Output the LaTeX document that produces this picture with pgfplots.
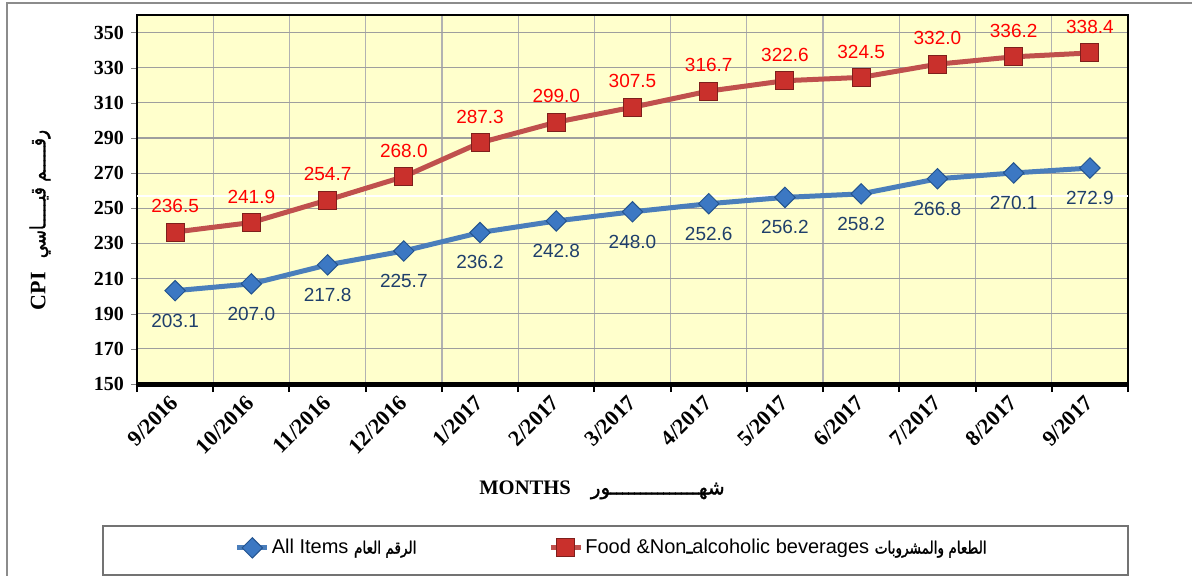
\documentclass[border=0pt]{standalone}
\usepackage{fontspec}
\setmainfont{Liberation Serif}
\newfontfamily\arial{Liberation Sans}
\newfontfamily\arabicfont[Script=Arabic,FakeBold=1.5]{DejaVu Sans}
\newfontfamily\arabiccond[Script=Arabic,FakeBold=1.5,FakeStretch=0.8]{DejaVu Sans}
\usepackage{pgfplots}
\pgfplotsset{compat=1.18}
\TeXXeTstate=1
\definecolor{redline}{HTML}{C0504D}
\definecolor{redfill}{HTML}{C9302C}
\definecolor{reddraw}{HTML}{7F1F1C}
\definecolor{blueline}{HTML}{4A7EBB}
\definecolor{bluefill}{HTML}{3C78C3}
\definecolor{bluedraw}{HTML}{24548F}
\definecolor{bluelab}{HTML}{1F3F6B}
\definecolor{bg}{HTML}{FFFFCC}
\pgfplotstableread{
x y
0 203.1
1 207.0
2 217.8
3 225.7
4 236.2
5 242.8
6 248.0
7 252.6
8 256.2
9 258.2
10 266.8
11 270.1
12 272.9
}\allitems
\pgfplotstableread{
x y
0 236.5
1 241.9
2 254.7
3 268.0
4 287.3
5 299.0
6 307.5
7 316.7
8 322.6
9 324.5
10 332.0
11 336.2
12 338.4
}\food
\begin{document}
\begin{tikzpicture}
\path[use as bounding box] (0,0) rectangle (596pt,-288pt);
\draw[black!45, line width=0.8pt] (3.5pt,-1.5pt) rectangle (600pt,-292pt);
\draw[black!55, line width=0.8pt] (51.5pt,-263pt) rectangle (564pt,-287.5pt);
\node[rotate=90] at (20pt,-110pt) {{\bfseries\fontsize{11}{13}\selectfont CPI}\hspace{7pt}{\arabiccond\fontsize{10.5}{13}\selectfont\beginR رقـــــم قيـــــاسي\endR}};
\node at (301pt,-245pt) {{\bfseries\fontsize{10.3}{12}\selectfont MONTHS}\hspace{10pt}{\arabicfont\fontsize{10}{12}\selectfont\beginR شهـــــــــــــــور\endR}};
\begin{axis}[
 at={(68.5pt,-192pt)}, anchor=south west,
 width=495.5pt, height=184.5pt, scale only axis,
 xmin=-0.5, xmax=12.5, ymin=150, ymax=360,
 xtick={0,...,12},
 xticklabels={9/2016,10/2016,11/2016,12/2016,1/2017,2/2017,3/2017,4/2017,5/2017,6/2017,7/2017,8/2017,9/2017},
 minor xtick={-0.5,0.5,...,12.5},
 ytick={150,170,...,350},
 ymajorgrids, xminorgrids,
 major grid style={color=black!38, line width=0.6pt},
 minor grid style={color=black!30, line width=0.6pt},
 axis background/.style={fill=bg},
 axis line style={line width=1.2pt},
 major x tick style={draw=none},
 minor x tick style={black, line width=1pt},
 minor tick length=4pt, major tick length=3pt,
 tick align=outside, xtick pos=bottom, ytick pos=left,
 yticklabel style={font=\bfseries\fontsize{10}{12}\selectfont, /pgf/number format/assume math mode=true},
 xticklabel style={font=\bfseries\fontsize{11}{13}\selectfont, rotate=45, anchor=east, yshift=-3pt},
 legend style={at={(0.479,-0.444)}, anchor=center, draw=none, fill=none, font=\arial\fontsize{10}{12}\selectfont, nodes={inner xsep=1pt}, /tikz/every even column/.append style={column sep=65pt}},
 legend columns=2,
 legend image code/.code={\draw[mark repeat=2,mark phase=2] plot coordinates {(0pt,0pt) (7.5pt,0pt) (15pt,0pt)};},
 clip=false,
]
\draw[white, line width=0.8pt] (axis cs:-0.5,257) -- (axis cs:12.5,257);
\addplot[color=blueline, line width=2.5pt, mark=square*, mark size=3.6pt,
  mark options={rotate=45, fill=bluefill, draw=bluedraw, line width=0.5pt},
  nodes near coords={\pgfmathprintnumber[fixed,fixed zerofill,precision=1,assume math mode=true]{\pgfplotspointmeta}},
  every node near coord/.append style={font=\arial\fontsize{9.5}{11}\selectfont, text=bluelab, anchor=north, yshift=-8pt}]
  table {\allitems};
\addplot[color=redline, line width=2.5pt, mark=square*, mark size=4.5pt,
  mark options={fill=redfill, draw=reddraw, line width=0.5pt},
  nodes near coords={\pgfmathprintnumber[fixed,fixed zerofill,precision=1,assume math mode=true]{\pgfplotspointmeta}},
  every node near coord/.append style={font=\arial\fontsize{9.5}{11}\selectfont, text=red, anchor=south, yshift=6pt}]
  table {\food};
\draw[black, line width=2.5pt] (rel axis cs:0,0) -- (rel axis cs:1,0);
\legend{All Items {\arabiccond\fontsize{8.5}{10}\selectfont\beginR الرقم العام\endR}, Food \&Non{\arabicfont ـ}alcoholic beverages {\arabiccond\fontsize{8.5}{10}\selectfont\beginR الطعام والمشروبات\endR}}
\end{axis}
\end{tikzpicture}
\end{document}
